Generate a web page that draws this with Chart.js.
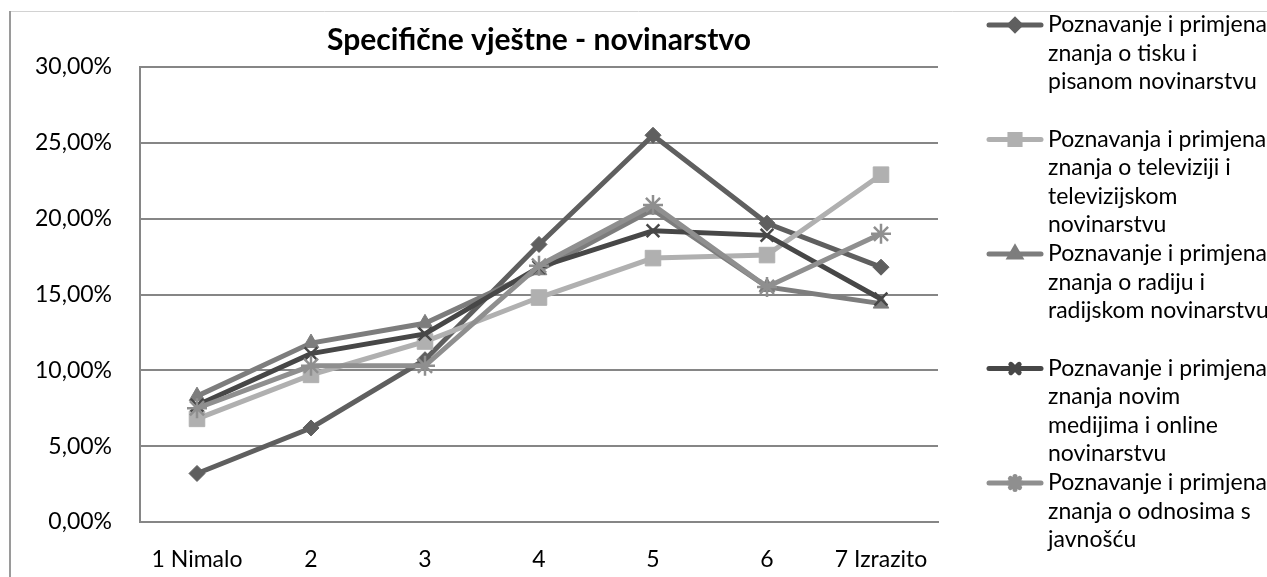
<!DOCTYPE html>
<html>
<head>
<meta charset="utf-8">
<script src="https://cdn.jsdelivr.net/npm/chart.js@4.4.1/dist/chart.umd.min.js"></script>
<style>
  body { margin: 0; background: #fff; }
  #wrap { width: 1267px; height: 577px; position: relative; }
</style>
</head>
<body>
<div id="wrap"><canvas id="skillsChart" width="1267" height="577"></canvas></div>
<script>
var categories = ["1 Nimalo", "2", "3", "4", "5", "6", "7 Izrazito"];

var tiskValues = [3.2, 6.2, 10.7, 18.3, 25.5, 19.7, 16.8];
var televizijaValues = [6.8, 9.7, 11.9, 14.8, 17.4, 17.6, 22.9];
var radioValues = [8.3, 11.8, 13.1, 16.6, 20.6, 15.5, 14.4];
var onlineValues = [7.7, 11.1, 12.4, 16.8, 19.2, 18.9, 14.7];
var odnosiValues = [7.5, 10.3, 10.3, 16.9, 20.9, 15.5, 19.0];

var seriesLabels = [
  ["Poznavanje i primjena", "znanja o tisku i", "pisanom novinarstvu"],
  ["Poznavanja i primjena", "znanja o televiziji i", "televizijskom", "novinarstvu"],
  ["Poznavanje i primjena", "znanja o radiju i", "radijskom novinarstvu"],
  ["Poznavanje i primjena", "znanja novim", "medijima i online", "novinarstvu"],
  ["Poznavanje i primjena", "znanja o odnosima s", "javnošću"]
];

var yTicks = [0, 5, 10, 15, 20, 25, 30];

var chartTitle = "Specifične vještne - novinarstvo";

var seriesColors = ["#5f5f5f", "#b0b0b0", "#7d7d7d", "#474747", "#8f8f8f"];
var seriesStyles = ["rectRot", "rect", "triangle", "crossRot", "star"];
var seriesRadius = [8, 11, 9, 9, 10];
var allValues = [tiskValues, televizijaValues, radioValues, onlineValues, odnosiValues];

var FONT = "Lato, 'Open Sans', sans-serif";

var datasets = [];
for (let i = 0; i < allValues.length; i++) {
  var cross = seriesStyles[i] === "crossRot" || seriesStyles[i] === "star";
  datasets.push({
    label: seriesLabels[i].join(" "),
    data: allValues[i],
    borderColor: seriesColors[i],
    backgroundColor: seriesColors[i],
    borderWidth: 5,
    pointStyle: seriesStyles[i],
    pointRadius: seriesRadius[i],
    pointBorderWidth: cross ? 2.5 : 1,
    pointBackgroundColor: seriesColors[i],
    pointBorderColor: seriesColors[i],
    tension: 0,
    order: allValues.length - i
  });
}

// page frame, title and the wrapped legend on the right
var decorPlugin = {
  id: "decor",
  afterDraw: function(chart) {
    var ctx = chart.ctx;
    ctx.save();
    ctx.strokeStyle = "#d2d2d2";
    ctx.lineWidth = 1;
    ctx.beginPath();
    ctx.moveTo(10, 11.5);
    ctx.lineTo(1267, 11.5);
    ctx.stroke();
    ctx.strokeStyle = "#9a9a9a";
    ctx.lineWidth = 2;
    ctx.beginPath();
    ctx.moveTo(10, 11);
    ctx.lineTo(10, 577);
    ctx.stroke();

    ctx.fillStyle = "#000";
    ctx.font = "bold 30px " + FONT;
    ctx.textAlign = "center";
    ctx.textBaseline = "middle";
    ctx.fillText(chartTitle, (chart.chartArea.left + chart.chartArea.right) / 2, 40);

    ctx.font = "23px " + FONT;
    ctx.textAlign = "left";
    for (let i = 0; i < seriesLabels.length; i++) {
      var y0 = 25 + i * 114.5;
      var ds = chart.data.datasets[i];
      ctx.strokeStyle = ds.borderColor;
      ctx.lineWidth = 5;
      ctx.lineCap = "round";
      ctx.beginPath();
      ctx.moveTo(989, y0);
      ctx.lineTo(1041, y0);
      ctx.stroke();
      if (Chart.helpers && Chart.helpers.drawPoint) {
        ctx.fillStyle = ds.borderColor;
        Chart.helpers.drawPoint(ctx, {
          pointStyle: ds.pointStyle,
          radius: ds.pointRadius * 0.65,
          borderWidth: ds.pointBorderWidth,
          rotation: 0
        }, 1015, y0);
      }
      ctx.fillStyle = "#000";
      for (let j = 0; j < seriesLabels[i].length; j++) {
        ctx.fillText(seriesLabels[i][j], 1048, y0 + j * 28.5);
      }
    }
    ctx.restore();
  }
};

new Chart(document.getElementById("skillsChart"), {
  type: "line",
  data: { labels: categories, datasets: datasets },
  options: {
    responsive: false,
    animation: false,
    layout: { padding: { top: 67, right: 329, left: 0, bottom: 0 } },
    plugins: {
      legend: { display: false },
      title: { display: false },
      tooltip: { enabled: false }
    },
    scales: {
      x: {
        offset: true,
        grid: { display: false, drawTicks: false },
        border: { display: true, color: "#868686", width: 2 },
        ticks: { color: "#000", font: { family: FONT, size: 23 }, padding: 24, maxRotation: 0 },
        afterFit: function(scale) { scale.height = 55; }
      },
      y: {
        min: 0,
        max: 30,
        afterBuildTicks: function(scale) {
          scale.ticks = yTicks.map(function(v) { return { value: v }; });
        },
        grid: { color: "#868686", lineWidth: 2, drawTicks: false },
        border: { display: true, color: "#868686", width: 2 },
        ticks: {
          color: "#000",
          font: { family: FONT, size: 23 },
          padding: 28,
          callback: function(v) { return v.toFixed(2).replace(".", ",") + "%"; }
        },
        afterFit: function(scale) { scale.width = 140; }
      }
    }
  },
  plugins: [decorPlugin]
});
</script>
</body>
</html>
